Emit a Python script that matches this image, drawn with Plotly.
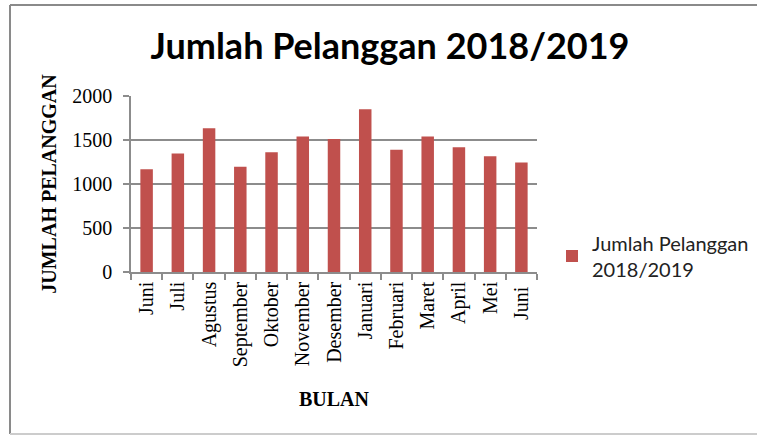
import plotly.graph_objects as go

months = ["Juni", "Juli", "Agustus", "September", "Oktober", "November", "Desember",
          "Januari", "Februari", "Maret", "April", "Mei", "Juni "]
values = [1168, 1346, 1633, 1195, 1361, 1539, 1512, 1849, 1388, 1539, 1418, 1316, 1244]
series_name = "Jumlah Pelanggan<br>2018/2019"
title_text = "Jumlah Pelanggan 2018/2019"
y_ticks = [0, 500, 1000, 1500, 2000]

W, H = 758, 436
L, R, T, B = 131, 221, 96, 164
pw, ph = W - L - R, H - T - B

def px(x):
    return (x - L) / pw

def py(y):
    return (H - B - y) / ph

fig = go.Figure()
fig.add_trace(go.Bar(x=months, y=values, name=series_name, marker_color="#C0504D",
                     marker_line_width=0, showlegend=True))

serif = "Liberation Serif"
fig.update_layout(
    width=W, height=H,
    margin=dict(l=L, r=R, t=T, b=B, autoexpand=False),
    paper_bgcolor="white", plot_bgcolor="white",
    bargap=0.6,
    title=dict(text="<b>" + title_text + "</b>", x=390 / W, xref="container", xanchor="center",
               y=1 - 46 / H, yref="container", yanchor="middle", automargin=False,
               font=dict(family="Lato", size=36, color="black")),
    showlegend=True,
    legend=dict(x=px(552), xanchor="left", y=py(256), yanchor="middle",
                font=dict(family="Lato", size=20, color="#222"),
                bgcolor="rgba(0,0,0,0)"),
    xaxis=dict(type="category", tickangle=-90, automargin=False,
               tickfont=dict(family=serif, size=20, color="black"),
               showline=True, linecolor="#8c8c8c", linewidth=1.5,
               ticks="outside", ticklen=6, tickcolor="#8c8c8c", tickwidth=1.5,
               tickson="boundaries", showgrid=False,
               title=dict(text="<b>BULAN</b>", font=dict(family=serif, size=20, color="black"),
                          standoff=26)),
    yaxis=dict(range=[0, 2000], tickvals=y_ticks, automargin=False,
               tickfont=dict(family=serif, size=20, color="black"),
               showline=True, linecolor="#8c8c8c", linewidth=1.5,
               ticks="outside", ticklen=6, tickcolor="#8c8c8c", tickwidth=1.5,
               showgrid=True, gridcolor="#8c8c8c", gridwidth=1.5, zeroline=False,
               ticklabelstandoff=7,
               title=dict(text="<b>JUMLAH PELANGGAN</b>", font=dict(family=serif, size=20, color="black"),
                          standoff=10)),
)

# chart frame
frame = dict(xref="paper", yref="paper", type="line")
fig.add_shape(**frame, x0=px(10), x1=px(10), y0=py(5), y1=py(434), line=dict(color="#8a8a8a", width=2))
fig.add_shape(**frame, x0=px(10), x1=px(757), y0=py(5), y1=py(5), line=dict(color="#8a8a8a", width=2))
fig.add_shape(**frame, x0=px(10), x1=px(757), y0=py(434), y1=py(434), line=dict(color="#cccccc", width=2))

fig.write_html("out.html", config={"displayModeBar": False},
               post_script="document.body.style.margin='0';document.body.style.overflow='hidden';")
